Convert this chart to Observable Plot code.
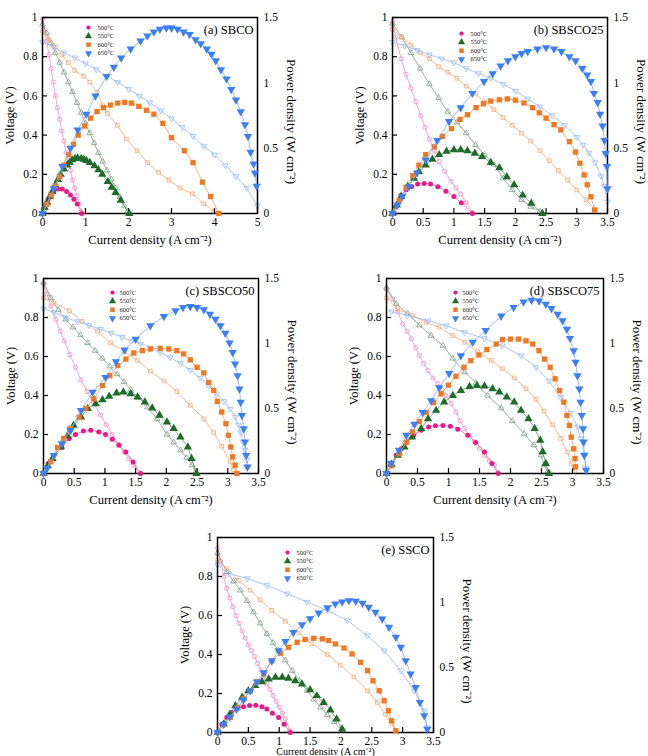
<!DOCTYPE html>
<html><head><meta charset="utf-8">
<script src="https://cdn.jsdelivr.net/npm/d3@7"></script>
<script src="https://cdn.jsdelivr.net/npm/@observablehq/plot@0.6"></script>
<style>
body{margin:0;background:#fff}
#root{position:relative;width:648px;height:756px;overflow:hidden;background:#fff;font-family:"Liberation Serif",serif}
#root svg{position:absolute;max-width:none}
</style></head>
<body><div id="root"></div>
<script>
// ---------- tick labels / text ----------
const temps = ["500°C", "550°C", "600°C", "650°C"];
const vTicks = [0, 0.2, 0.4, 0.6, 0.8, 1];
const pTicks = [0, 0.5, 1, 1.5];
const xTicks5 = [0, 1, 2, 3, 4, 5];
const xTicks35 = [0, 0.5, 1, 1.5, 2, 2.5, 3, 3.5];
const xLabel = "Current density (A cm⁻²)";
const vLabel = "Voltage (V)";
const pLabel = "Power density (W cm⁻²)";

// ---------- (a) SBCO : [current, voltage] / [current, power] ----------
const a500V = [[0,0.99],[0.05,0.94],[0.1,0.88],[0.15,0.81],[0.2,0.74],[0.25,0.67],[0.3,0.6],[0.35,0.54],[0.4,0.48],[0.45,0.42],[0.5,0.37],[0.55,0.31],[0.6,0.26],[0.65,0.22],[0.7,0.17],[0.75,0.13],[0.8,0.09],[0.85,0.05],[0.9,0.01]];
const a500P = [[0,0],[0.03,0.04],[0.08,0.077],[0.13,0.11],[0.19,0.141],[0.26,0.169],[0.36,0.187],[0.46,0.187],[0.56,0.169],[0.65,0.141],[0.73,0.11],[0.81,0.072],[0.91,0]];
const a550V = [[0,0.965],[0.1,0.92],[0.2,0.87],[0.3,0.82],[0.4,0.77],[0.5,0.72],[0.6,0.67],[0.7,0.62],[0.8,0.565],[0.9,0.515],[1.0,0.46],[1.1,0.41],[1.2,0.36],[1.3,0.31],[1.4,0.265],[1.5,0.22],[1.6,0.175],[1.7,0.13],[1.8,0.085],[1.9,0.04],[1.97,0.01]];
const a550P = [[0,0],[0.05,0.045],[0.11,0.085],[0.17,0.13],[0.23,0.17],[0.3,0.22],[0.36,0.26],[0.42,0.3],[0.5,0.34],[0.575,0.37],[0.63,0.39],[0.69,0.41],[0.76,0.42],[0.82,0.425],[0.9,0.42],[0.96,0.415],[1.02,0.405],[1.1,0.39],[1.21,0.365],[1.3,0.335],[1.39,0.3],[1.52,0.245],[1.61,0.2],[1.7,0.16],[1.82,0.1],[2.02,0]];
const a600V = [[0,0.93],[0.15,0.89],[0.3,0.85],[0.45,0.81],[0.6,0.77],[0.75,0.73],[0.96,0.7],[1.1,0.67],[1.27,0.62],[1.4,0.55],[1.51,0.51],[1.74,0.45],[1.95,0.38],[2.2,0.32],[2.44,0.26],[2.7,0.21],[2.94,0.17],[3.2,0.13],[3.49,0.1],[3.75,0.05],[3.99,0.01]];
const a600P = [[0,0],[0.1,0.07],[0.2,0.14],[0.3,0.21],[0.4,0.28],[0.5,0.37],[0.61,0.45],[0.72,0.53],[0.83,0.6],[0.98,0.67],[1.12,0.73],[1.27,0.78],[1.42,0.81],[1.58,0.83],[1.75,0.845],[1.91,0.85],[2.07,0.845],[2.24,0.82],[2.42,0.79],[2.59,0.76],[2.8,0.69],[3.0,0.58],[3.3,0.48],[3.5,0.39],[3.72,0.24],[3.91,0.13],[4.1,0]];
const a650V = [[0,0.875],[0.25,0.85],[0.5,0.82],[0.75,0.795],[1.0,0.765],[1.25,0.735],[1.5,0.7],[1.75,0.67],[2.0,0.635],[2.25,0.6],[2.5,0.565],[2.75,0.525],[3.0,0.485],[3.25,0.44],[3.5,0.395],[3.75,0.345],[4.0,0.3],[4.25,0.245],[4.5,0.19],[4.75,0.13],[5.0,0.04]];
const a650P = [[0,0],[0.26,0.19],[0.46,0.36],[0.65,0.5],[0.82,0.64],[1.02,0.76],[1.23,0.9],[1.49,1.05],[1.66,1.12],[1.83,1.19],[2.05,1.26],[2.28,1.32],[2.44,1.36],[2.59,1.39],[2.73,1.41],[2.88,1.42],[3.0,1.42],[3.14,1.41],[3.28,1.39],[3.42,1.37],[3.56,1.33],[3.68,1.3],[3.82,1.26],[3.93,1.22],[4.03,1.17],[4.15,1.1],[4.28,1.03],[4.39,0.95],[4.5,0.87],[4.61,0.78],[4.71,0.68],[4.78,0.59],[4.84,0.47],[4.91,0.38],[4.94,0.31],[4.98,0.21]];

// ---------- (b) SBSCO25 ----------
const b500V = [[0,0.98],[0.05,0.9],[0.14,0.79],[0.22,0.71],[0.3,0.64],[0.38,0.57],[0.46,0.5],[0.53,0.44],[0.6,0.38],[0.68,0.32],[0.76,0.265],[0.85,0.215],[0.95,0.165],[1.03,0.13],[1.11,0.1],[1.2,0.055],[1.3,0.005]];
const b500P = [[0,0],[0.054,0.05],[0.14,0.14],[0.22,0.18],[0.31,0.205],[0.41,0.226],[0.515,0.23],[0.62,0.226],[0.74,0.205],[0.87,0.17],[1.0,0.13],[1.12,0.082],[1.3,0]];
const b550V = [[0,0.97],[0.15,0.9],[0.3,0.82],[0.45,0.74],[0.6,0.66],[0.75,0.59],[0.9,0.52],[1.05,0.465],[1.2,0.41],[1.35,0.35],[1.5,0.3],[1.65,0.25],[1.8,0.18],[1.95,0.12],[2.1,0.07],[2.25,0.035],[2.4,0.01]];
const b550P = [[0,0],[0.07,0.065],[0.14,0.13],[0.25,0.21],[0.35,0.27],[0.43,0.32],[0.54,0.37],[0.65,0.415],[0.76,0.45],[0.88,0.475],[1.0,0.487],[1.11,0.487],[1.22,0.48],[1.34,0.46],[1.46,0.435],[1.6,0.39],[1.74,0.35],[1.86,0.28],[1.98,0.22],[2.12,0.14],[2.26,0.077],[2.44,0]];
const b600V = [[0,0.94],[0.15,0.9],[0.3,0.86],[0.45,0.82],[0.6,0.79],[0.75,0.75],[0.9,0.72],[1.05,0.69],[1.2,0.65],[1.35,0.61],[1.5,0.57],[1.65,0.53],[1.8,0.49],[1.95,0.45],[2.1,0.41],[2.25,0.37],[2.4,0.32],[2.55,0.27],[2.7,0.22],[2.85,0.17],[3.0,0.12],[3.15,0.07],[3.3,0.02]];
const b600P = [[0,0],[0.11,0.1],[0.22,0.2],[0.33,0.29],[0.43,0.37],[0.54,0.45],[0.68,0.51],[0.81,0.59],[0.96,0.65],[1.1,0.72],[1.22,0.756],[1.36,0.81],[1.48,0.84],[1.6,0.86],[1.74,0.87],[1.87,0.877],[2.0,0.867],[2.14,0.846],[2.28,0.81],[2.39,0.77],[2.5,0.73],[2.63,0.68],[2.74,0.64],[2.88,0.55],[2.98,0.47],[3.05,0.385],[3.12,0.295],[3.17,0.22],[3.23,0.128],[3.29,0.026]];
const b650V = [[0,0.875],[0.2,0.855],[0.4,0.833],[0.6,0.81],[0.8,0.79],[1.0,0.77],[1.2,0.74],[1.4,0.715],[1.6,0.69],[1.8,0.66],[2.0,0.625],[2.2,0.585],[2.4,0.545],[2.6,0.5],[2.8,0.45],[3.0,0.39],[3.1,0.35],[3.2,0.31],[3.3,0.26],[3.4,0.19],[3.45,0.14],[3.5,0.06]];
const b650P = [[0,0],[0.08,0.065],[0.16,0.13],[0.27,0.205],[0.4,0.31],[0.54,0.41],[0.73,0.56],[0.92,0.705],[1.11,0.81],[1.3,0.92],[1.49,1.01],[1.63,1.07],[1.76,1.13],[1.88,1.17],[2.0,1.2],[2.1,1.225],[2.2,1.24],[2.36,1.26],[2.5,1.27],[2.63,1.26],[2.75,1.24],[2.88,1.2],[2.98,1.17],[3.09,1.11],[3.17,1.06],[3.23,1.01],[3.28,0.92],[3.34,0.85],[3.38,0.76],[3.42,0.67],[3.45,0.56],[3.47,0.46],[3.49,0.36],[3.5,0.19]];

// ---------- (c) SBSCO50 ----------
const c500V = [[0,0.97],[0.06,0.92],[0.12,0.86],[0.2,0.79],[0.27,0.73],[0.34,0.68],[0.43,0.61],[0.52,0.545],[0.61,0.48],[0.71,0.42],[0.82,0.36],[0.93,0.3],[1.02,0.25],[1.12,0.2],[1.22,0.15],[1.31,0.11],[1.39,0.075],[1.47,0.043],[1.58,0]];
const c500P = [[0,0],[0.076,0.077],[0.17,0.14],[0.3,0.2],[0.42,0.27],[0.52,0.3],[0.65,0.327],[0.77,0.332],[0.9,0.32],[1.01,0.3],[1.12,0.263],[1.23,0.217],[1.34,0.166],[1.46,0.089],[1.58,0]];
const c550V = [[0,0.98],[0.12,0.9],[0.24,0.84],[0.36,0.79],[0.48,0.75],[0.6,0.71],[0.72,0.67],[0.84,0.63],[0.96,0.59],[1.08,0.55],[1.2,0.51],[1.31,0.47],[1.42,0.43],[1.55,0.39],[1.69,0.34],[1.85,0.28],[2.01,0.2],[2.12,0.16],[2.23,0.12],[2.33,0.08],[2.42,0.043],[2.48,0.01]];
const c550P = [[0,0],[0.07,0.06],[0.146,0.115],[0.28,0.205],[0.39,0.29],[0.49,0.37],[0.61,0.434],[0.72,0.5],[0.85,0.536],[0.96,0.567],[1.07,0.593],[1.19,0.618],[1.3,0.626],[1.42,0.613],[1.53,0.587],[1.65,0.55],[1.77,0.503],[1.89,0.447],[2.01,0.396],[2.12,0.345],[2.23,0.281],[2.35,0.204],[2.41,0.115],[2.49,0]];
const c600V = [[0,0.9],[0.17,0.877],[0.42,0.835],[0.63,0.78],[0.88,0.73],[1.09,0.67],[1.31,0.625],[1.53,0.58],[1.74,0.525],[1.96,0.475],[2.17,0.42],[2.39,0.35],[2.61,0.28],[2.77,0.21],[2.9,0.14],[3.04,0.06],[3.09,0.02]];
const c600P = [[0,0],[0.12,0.09],[0.23,0.2],[0.33,0.27],[0.43,0.345],[0.58,0.434],[0.69,0.5],[0.82,0.575],[0.96,0.677],[1.08,0.753],[1.21,0.83],[1.34,0.88],[1.47,0.927],[1.61,0.945],[1.74,0.958],[1.9,0.963],[2.04,0.958],[2.17,0.945],[2.28,0.92],[2.39,0.874],[2.5,0.817],[2.61,0.774],[2.69,0.7],[2.77,0.64],[2.83,0.555],[2.9,0.473],[2.97,0.383],[3.01,0.294],[3.05,0.204],[3.08,0.128],[3.12,0.064],[3.15,0]];
const c650V = [[0,0.845],[0.17,0.826],[0.36,0.8],[0.55,0.78],[0.74,0.76],[0.93,0.74],[1.1,0.72],[1.28,0.7],[1.43,0.68],[1.58,0.665],[1.74,0.645],[1.9,0.62],[2.06,0.595],[2.23,0.565],[2.39,0.53],[2.55,0.49],[2.69,0.45],[2.82,0.41],[2.94,0.37],[3.04,0.33],[3.12,0.29],[3.17,0.25],[3.21,0.21],[3.25,0.16],[3.28,0.12],[3.31,0.07],[3.32,0.03]];
const c650P = [[0,0],[0.06,0.04],[0.17,0.14],[0.3,0.23],[0.44,0.332],[0.61,0.485],[0.8,0.626],[1.01,0.74],[1.18,0.86],[1.32,0.95],[1.5,1.034],[1.74,1.137],[1.96,1.208],[2.15,1.252],[2.27,1.277],[2.39,1.285],[2.5,1.277],[2.61,1.26],[2.71,1.226],[2.8,1.188],[2.88,1.137],[2.96,1.08],[3.03,1.004],[3.08,0.932],[3.12,0.843],[3.16,0.753],[3.19,0.651],[3.21,0.549],[3.23,0.447],[3.26,0.345],[3.28,0.243],[3.3,0.14],[3.32,0.051]];

// ---------- (d) SBSCO75 ----------
const d500V = [[0,0.945],[0.1,0.894],[0.18,0.83],[0.26,0.767],[0.33,0.73],[0.4,0.69],[0.47,0.645],[0.53,0.605],[0.6,0.565],[0.67,0.528],[0.75,0.49],[0.83,0.46],[0.9,0.43],[0.96,0.4],[1.04,0.36],[1.12,0.315],[1.19,0.27],[1.26,0.23],[1.34,0.195],[1.42,0.162],[1.5,0.128],[1.58,0.094],[1.66,0.065],[1.74,0.043],[1.8,0.005]];
const d500P = [[0,0],[0.075,0.064],[0.156,0.14],[0.24,0.19],[0.33,0.243],[0.44,0.294],[0.56,0.332],[0.68,0.358],[0.79,0.368],[0.91,0.37],[1.03,0.363],[1.15,0.34],[1.31,0.294],[1.44,0.238],[1.58,0.166],[1.7,0.077],[1.8,0]];
const d550V = [[0,0.954],[0.156,0.87],[0.34,0.82],[0.53,0.76],[0.72,0.707],[0.91,0.656],[1.07,0.59],[1.26,0.52],[1.44,0.465],[1.63,0.4],[1.85,0.335],[2.03,0.27],[2.22,0.204],[2.38,0.145],[2.49,0.094],[2.54,0.043],[2.6,0.01]];
const d550P = [[0,0],[0.08,0.07],[0.18,0.14],[0.29,0.204],[0.41,0.28],[0.56,0.345],[0.67,0.42],[0.8,0.485],[0.93,0.55],[1.07,0.6],[1.2,0.638],[1.34,0.669],[1.46,0.677],[1.58,0.672],[1.71,0.651],[1.82,0.626],[1.94,0.587],[2.06,0.549],[2.17,0.485],[2.29,0.42],[2.39,0.345],[2.48,0.255],[2.52,0.166],[2.57,0.077],[2.62,0]];
const d600V = [[0,0.9],[0.18,0.843],[0.42,0.81],[0.64,0.775],[0.85,0.75],[1.07,0.707],[1.26,0.673],[1.47,0.625],[1.69,0.58],[1.87,0.537],[2.06,0.49],[2.25,0.435],[2.41,0.38],[2.54,0.32],[2.68,0.25],[2.81,0.18],[2.92,0.11],[2.98,0.05],[3.03,0.01]];
const d600P = [[0,0],[0.08,0.06],[0.21,0.153],[0.32,0.24],[0.42,0.32],[0.53,0.4],[0.64,0.47],[0.76,0.545],[0.88,0.613],[1.0,0.68],[1.12,0.748],[1.25,0.817],[1.36,0.868],[1.49,0.912],[1.62,0.953],[1.77,0.996],[1.87,1.03],[2.0,1.034],[2.13,1.034],[2.25,1.02],[2.36,0.996],[2.46,0.945],[2.55,0.88],[2.64,0.817],[2.72,0.728],[2.79,0.638],[2.86,0.549],[2.91,0.447],[2.95,0.37],[2.98,0.28],[3.02,0.19],[3.04,0.115],[3.05,0.051]];
const d650V = [[0.08,0.83],[0.34,0.81],[0.67,0.784],[0.96,0.758],[1.26,0.724],[1.58,0.693],[1.87,0.656],[2.17,0.605],[2.41,0.545],[2.62,0.475],[2.81,0.39],[2.97,0.31],[3.08,0.24],[3.13,0.18],[3.19,0.1],[3.22,0.03]];
const d650P = [[0,0],[0.075,0.077],[0.2,0.18],[0.32,0.294],[0.45,0.38],[0.585,0.47],[0.72,0.56],[0.85,0.66],[1.01,0.77],[1.2,0.907],[1.39,1.01],[1.6,1.1],[1.85,1.213],[2.05,1.277],[2.21,1.32],[2.34,1.333],[2.46,1.328],[2.57,1.303],[2.66,1.27],[2.76,1.226],[2.84,1.175],[2.91,1.11],[2.96,1.04],[3.02,0.945],[3.05,0.856],[3.08,0.753],[3.11,0.651],[3.13,0.549],[3.15,0.447],[3.17,0.345],[3.18,0.243],[3.19,0.14],[3.22,0.026]];

// ---------- (e) SSCO ----------
const e500V = [[0,0.945],[0.05,0.88],[0.1,0.8],[0.15,0.74],[0.2,0.69],[0.25,0.645],[0.3,0.6],[0.35,0.56],[0.4,0.52],[0.45,0.485],[0.5,0.45],[0.55,0.42],[0.6,0.39],[0.65,0.355],[0.7,0.32],[0.75,0.285],[0.8,0.25],[0.85,0.22],[0.9,0.19],[0.95,0.16],[1.0,0.13],[1.05,0.1],[1.1,0.07],[1.17,0.01]];
const e500P = [[0,0],[0.07,0.064],[0.15,0.116],[0.23,0.154],[0.31,0.18],[0.42,0.198],[0.52,0.208],[0.62,0.21],[0.72,0.198],[0.8,0.18],[0.89,0.149],[0.99,0.116],[1.08,0.064],[1.18,0]];
const e550V = [[0,0.92],[0.15,0.823],[0.26,0.775],[0.37,0.729],[0.48,0.675],[0.585,0.617],[0.69,0.56],[0.8,0.506],[0.9,0.46],[0.99,0.42],[1.1,0.37],[1.21,0.317],[1.33,0.265],[1.45,0.214],[1.56,0.17],[1.67,0.129],[1.78,0.09],[1.89,0.055],[2.02,0.009]];
const e550P = [[0,0],[0.1,0.064],[0.2,0.14],[0.29,0.206],[0.4,0.27],[0.5,0.321],[0.61,0.36],[0.72,0.39],[0.83,0.411],[0.94,0.424],[1.05,0.424],[1.15,0.416],[1.26,0.398],[1.37,0.373],[1.5,0.329],[1.61,0.283],[1.72,0.231],[1.83,0.172],[1.93,0.103],[2.02,0.026]];
const e600V = [[0,0.88],[0.15,0.84],[0.34,0.78],[0.53,0.73],[0.69,0.68],[0.88,0.626],[1.1,0.57],[1.32,0.51],[1.53,0.455],[1.78,0.4],[1.99,0.345],[2.21,0.285],[2.43,0.214],[2.59,0.154],[2.72,0.094],[2.83,0.043],[2.89,0.009]];
const e600P = [[0,0],[0.1,0.06],[0.21,0.116],[0.33,0.193],[0.43,0.26],[0.53,0.321],[0.64,0.39],[0.75,0.45],[0.88,0.553],[1.02,0.61],[1.15,0.656],[1.29,0.694],[1.42,0.715],[1.56,0.725],[1.7,0.72],[1.8,0.707],[1.91,0.681],[2.05,0.65],[2.18,0.604],[2.32,0.54],[2.43,0.476],[2.52,0.398],[2.62,0.321],[2.7,0.244],[2.77,0.167],[2.82,0.09],[2.89,0.013]];
const e650V = [[0,0.858],[0.18,0.815],[0.48,0.79],[0.8,0.755],[1.13,0.712],[1.45,0.669],[1.78,0.626],[2.1,0.575],[2.43,0.497],[2.7,0.42],[2.97,0.317],[3.19,0.214],[3.35,0.111],[3.4,0.026]];
const e650P = [[0,0],[0.1,0.064],[0.2,0.12],[0.31,0.18],[0.42,0.25],[0.53,0.32],[0.64,0.39],[0.75,0.46],[0.88,0.55],[0.99,0.63],[1.1,0.7],[1.23,0.77],[1.37,0.83],[1.5,0.875],[1.64,0.92],[1.78,0.96],[1.91,0.99],[2.02,1.005],[2.13,1.015],[2.24,1.01],[2.35,0.995],[2.45,0.964],[2.56,0.925],[2.67,0.874],[2.78,0.81],[2.89,0.733],[2.97,0.656],[3.05,0.553],[3.13,0.45],[3.21,0.347],[3.28,0.231],[3.35,0.129],[3.4,0.026]];

// ---------- styling ----------
const FONT = "Liberation Serif, Times New Roman, serif";
const pColors = ["#e8198b", "#1f6b2a", "#f07822", "#3b7ff2"];
const pLineColors = ["#ef6aae", "#5e9a66", "#f4a060", "#7fabf5"];
const ivColors = ["#f28cc3", "#7f9f84", "#f5ab78", "#96baf5"];
const downTri = {draw(ctx, size) {
  const a = Math.sqrt(4 * size / Math.sqrt(3)), h = a * Math.sqrt(3) / 2;
  ctx.moveTo(0, 2 * h / 3); ctx.lineTo(a / 2, -h / 3); ctx.lineTo(-a / 2, -h / 3); ctx.closePath();
}};
const symbols = ["circle", "triangle", "square", downTri];
const pR = [2.5, 3.1, 3.0, 3.1];
const M = {l: 42, r: 45, t: 10, b: 40};

const panels = [
  {title: "(a) SBCO", xMax: 5, xTicks: xTicks5, left: 42, top: 17, w: 215, h: 196,
   iv: [a500V, a550V, a600V, a650V], pw: [a500P, a550P, a600P, a650P], leg: {mx: 46, tx: 55, y: 10}, xl: {dy: 26, size: 12.5}},
  {title: "(b) SBSCO25", xMax: 3.5, xTicks: xTicks35, left: 392, top: 17, w: 215, h: 196,
   iv: [b500V, b550V, b600V, b650V], pw: [b500P, b550P, b600P, b650P], leg: {mx: 69, tx: 78, y: 16}, xl: {dy: 26, size: 12.5}},
  {title: "(c) SBSCO50", xMax: 3.5, xTicks: xTicks35, left: 43, top: 278, w: 215, h: 195,
   iv: [c500V, c550V, c600V, c650V], pw: [c500P, c550P, c600P, c650P], leg: {mx: 69, tx: 76, y: 14}, xl: {dy: 26, size: 12.5}},
  {title: "(d) SBSCO75", xMax: 3.5, xTicks: xTicks35, left: 386, top: 278, w: 217, h: 195,
   iv: [d500V, d550V, d600V, d650V], pw: [d500P, d550P, d600P, d650P], leg: {mx: 69, tx: 76, y: 14}, xl: {dy: 26, size: 12.5}},
  {title: "(e) SSCO", xMax: 3.5, xTicks: xTicks35, left: 217, top: 537, w: 216, h: 195,
   iv: [e500V, e550V, e600V, e650V], pw: [e500P, e550P, e600P, e650P], leg: {mx: 70, tx: 79, y: 15}, xl: {dy: 19, size: 10}}
];

const root = document.getElementById("root");
const X = d => d[0], Y = d => d[1];

function place(svg, p) {
  svg.style.left = (p.left - M.l) + "px";
  svg.style.top = (p.top - M.t) + "px";
  root.appendChild(svg);
}

for (const p of panels) {
  const base = {
    width: p.w + M.l + M.r, height: p.h + M.t + M.b,
    marginLeft: M.l, marginRight: M.r, marginTop: M.t, marginBottom: M.b,
    style: {background: "transparent", fontFamily: FONT, fontSize: "11.5px", color: "black", overflow: "visible"}
  };
  // voltage layer
  const vMarks = [];
  p.iv.forEach((s, i) => {
    vMarks.push(Plot.line(s, {x: X, y: Y, stroke: ivColors[i], strokeWidth: 0.8}));
    vMarks.push(Plot.dot(s, {x: X, y: Y, symbol: symbols[i], stroke: ivColors[i], fill: "none", r: 2.1, strokeWidth: 0.8}));
  });
  const vPlot = Plot.plot({
    ...base,
    x: {domain: [0, p.xMax]},
    y: {domain: [0, 1]},
    marks: [
      ...vMarks,
      Plot.tickY(vTicks, {y: d => d, insetRight: p.w - 5, stroke: "black", strokeWidth: 1.2}),
      Plot.tickX(p.xTicks, {x: d => d, insetTop: p.h - 5, stroke: "black", strokeWidth: 1.2}),
      Plot.axisY(vTicks, {tickSize: 0, tickPadding: 5, tickFormat: d => String(d), fontSize: 11.5, label: null}),
      Plot.axisX(p.xTicks, {tickSize: 0, tickPadding: 4, tickFormat: d => String(d), fontSize: 11.5, label: null}),
      Plot.frame({stroke: "black", strokeWidth: 1.5}),
      Plot.text([vLabel], {text: d => d, frameAnchor: "left", dx: -33, rotate: -90, textAnchor: "middle", lineAnchor: "middle", fontSize: 12.5}),
      Plot.text([xLabel], {text: d => d, frameAnchor: "bottom", dy: p.xl.dy, textAnchor: "middle", lineAnchor: "middle", fontSize: p.xl.size})
    ]
  });
  place(vPlot, p);

  // power layer
  const pMarks = [];
  p.pw.forEach((s, i) => {
    pMarks.push(Plot.line(s, {x: X, y: Y, stroke: pLineColors[i], strokeWidth: 0.8}));
    pMarks.push(Plot.dot(s, {x: X, y: Y, symbol: symbols[i], fill: pColors[i], stroke: "none", r: pR[i]}));
  });
  temps.forEach((t, i) => {
    pMarks.push(Plot.dot([t], {frameAnchor: "top-left", dx: p.leg.mx, dy: p.leg.y + i * 8.6, symbol: symbols[i], fill: pColors[i], stroke: "none", r: pR[i] * 0.85}));
    pMarks.push(Plot.text([t], {text: d => d, frameAnchor: "top-left", dx: p.leg.tx, dy: p.leg.y + i * 8.6, textAnchor: "start", lineAnchor: "middle", fontSize: 6.5, fill: "#222"}));
  });
  const pPlot = Plot.plot({
    ...base,
    x: {domain: [0, p.xMax], axis: null},
    y: {domain: [0, 1.5]},
    marks: [
      ...pMarks,
      Plot.axisY(pTicks, {anchor: "right", tickSize: 0, tickPadding: 6, tickFormat: d => String(d), fontSize: 11.5, label: null}),
      Plot.text([p.title], {text: d => d, frameAnchor: "top-right", dx: -4, dy: 12, textAnchor: "end", lineAnchor: "middle", fontSize: 12.5}),
      Plot.text([pLabel], {text: d => d, frameAnchor: "right", dx: 34, dy: 6, rotate: 90, textAnchor: "middle", lineAnchor: "middle", fontSize: 13})
    ]
  });
  place(pPlot, p);
}
</script></body></html>
